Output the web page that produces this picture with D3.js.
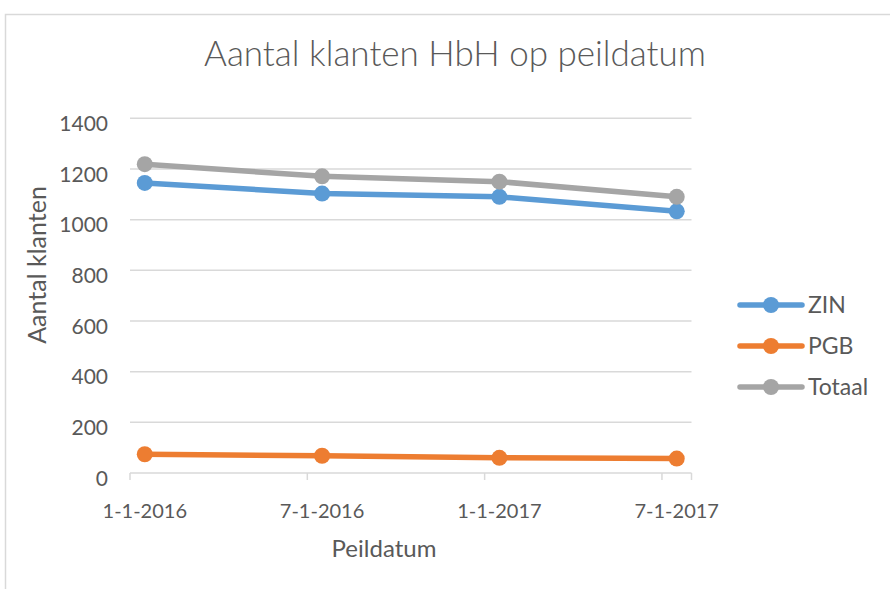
<!DOCTYPE html>
<meta charset="utf-8">
<style>
  body { margin: 0; background: #fff; }
  text { font-family: Lato, "Open Sans", sans-serif; fill: #595959; }
</style>
<body>
<script src="https://cdnjs.cloudflare.com/ajax/libs/d3/7.8.5/d3.min.js"></script>
<script>

var dates = ["2016-01-01", "2016-07-01", "2017-01-01", "2017-07-01"];
var zin = [1145, 1103, 1090, 1033];
var pgb = [74, 68, 60, 57];
var totaal = [1219, 1171, 1150, 1090];
var yTicks = [0, 200, 400, 600, 800, 1000, 1200, 1400];
var seriesNames = ["ZIN", "PGB", "Totaal"];
var colors = ["#5B9BD5", "#ED7D31", "#A5A5A5"];

var width = 890, height = 589;
var plotLeft = 130, plotRight = 691.5, plotTop = 118.3, plotBottom = 473;

var svg = d3.select("body").append("svg")
    .attr("width", width)
    .attr("height", height);

// chart area border
svg.append("path")
  .attr("d", "M5.5," + height + "V14.5H" + width)
  .attr("fill", "none")
  .attr("stroke", "#D9D9D9")
  .attr("stroke-width", 1.5);

var parse = d3.utcParse("%Y-%m-%d");
var fmt = function(d) { return (d.getUTCMonth() + 1) + "-" + d.getUTCDate() + "-" + d.getUTCFullYear(); };

// month based date axis, every month one slot
var months = d3.utcMonth.range(parse(dates[0]), d3.utcMonth.offset(parse(dates[dates.length - 1]), 1));
var x = d3.scaleBand()
  .domain(months.map(function(d) { return +d; }))
  .range([plotLeft, plotRight]);

var y = d3.scaleLinear()
  .domain([0, 1400])
  .range([plotBottom, plotTop]);

function cx(s) { return x(+parse(s)) + x.bandwidth() / 2; }

// gridlines
svg.append("g")
  .selectAll("line")
  .data(yTicks.filter(function(d) { return d > 0; }))
  .enter().append("line")
  .attr("x1", plotLeft).attr("x2", plotRight)
  .attr("y1", function(d) { return y(d); })
  .attr("y2", function(d) { return y(d); })
  .attr("stroke", "#D9D9D9")
  .attr("stroke-width", 1.5);

// y labels (sit a bit below their gridline, like the original)
svg.append("g")
  .selectAll("text")
  .data(yTicks)
  .enter().append("text")
  .attr("x", 108)
  .attr("y", function(d) { return y(d) + 5; })
  .attr("dy", "0.36em")
  .attr("text-anchor", "end")
  .style("font-size", "21px")
  .text(function(d) { return d; });

// x axis line + ticks at slot edges (every 6 months)
svg.append("line")
  .attr("x1", plotLeft).attr("x2", plotRight)
  .attr("y1", plotBottom).attr("y2", plotBottom)
  .attr("stroke", "#D9D9D9").attr("stroke-width", 1.5);

var tickPos = dates.map(function(s) { return x(+parse(s)); }).concat([plotRight]);
svg.append("g")
  .selectAll("line")
  .data(tickPos)
  .enter().append("line")
  .attr("x1", function(d) { return d; })
  .attr("x2", function(d) { return d; })
  .attr("y1", plotBottom).attr("y2", plotBottom + 7)
  .attr("stroke", "#D9D9D9").attr("stroke-width", 1.5);

svg.append("g")
  .selectAll("text")
  .data(dates)
  .enter().append("text")
  .attr("x", function(d) { return cx(d); })
  .attr("y", 518)
  .attr("text-anchor", "middle")
  .style("font-size", "20px")
  .text(function(d) { return fmt(parse(d)); });

// lines
var allSeries = [zin, pgb, totaal];
var line = d3.line()
  .x(function(d, i) { return cx(dates[i]); })
  .y(function(d) { return y(d); });

allSeries.forEach(function(vals, k) {
  var g = svg.append("g");
  g.append("path")
    .attr("d", line(vals))
    .attr("fill", "none")
    .attr("stroke", colors[k])
    .attr("stroke-width", 5.5)
    .attr("stroke-linejoin", "round")
    .attr("stroke-linecap", "round");
  g.selectAll("circle")
    .data(vals)
    .enter().append("circle")
    .attr("cx", function(d, i) { return cx(dates[i]); })
    .attr("cy", function(d) { return y(d); })
    .attr("r", 8)
    .attr("fill", colors[k]);
});

// title
svg.append("text")
  .attr("x", 455)
  .attr("y", 66)
  .attr("text-anchor", "middle")
  .style("font-size", "35px")
  .style("font-weight", 300)
  .text("Aantal klanten HbH op peildatum");

// axis titles
svg.append("text")
  .attr("transform", "translate(46,265) rotate(-90)")
  .attr("text-anchor", "middle")
  .style("font-size", "25px")
  .text("Aantal klanten");

svg.append("text")
  .attr("x", 384)
  .attr("y", 557)
  .attr("text-anchor", "middle")
  .style("font-size", "24px")
  .text("Peildatum");

// legend
var legend = svg.append("g")
  .selectAll("g")
  .data(seriesNames)
  .enter().append("g")
  .attr("transform", function(d, i) { return "translate(740," + (305 + i * 41) + ")"; });

legend.append("line")
  .attr("x1", 0).attr("x2", 62)
  .attr("stroke", function(d, i) { return colors[i]; })
  .attr("stroke-width", 5.5)
  .attr("stroke-linecap", "round");

legend.append("circle")
  .attr("cx", 31)
  .attr("r", 8)
  .attr("fill", function(d, i) { return colors[i]; });

legend.append("text")
  .attr("x", 68)
  .attr("dy", "0.36em")
  .style("font-size", "23px")
  .text(function(d) { return d; });

</script>
</body>
